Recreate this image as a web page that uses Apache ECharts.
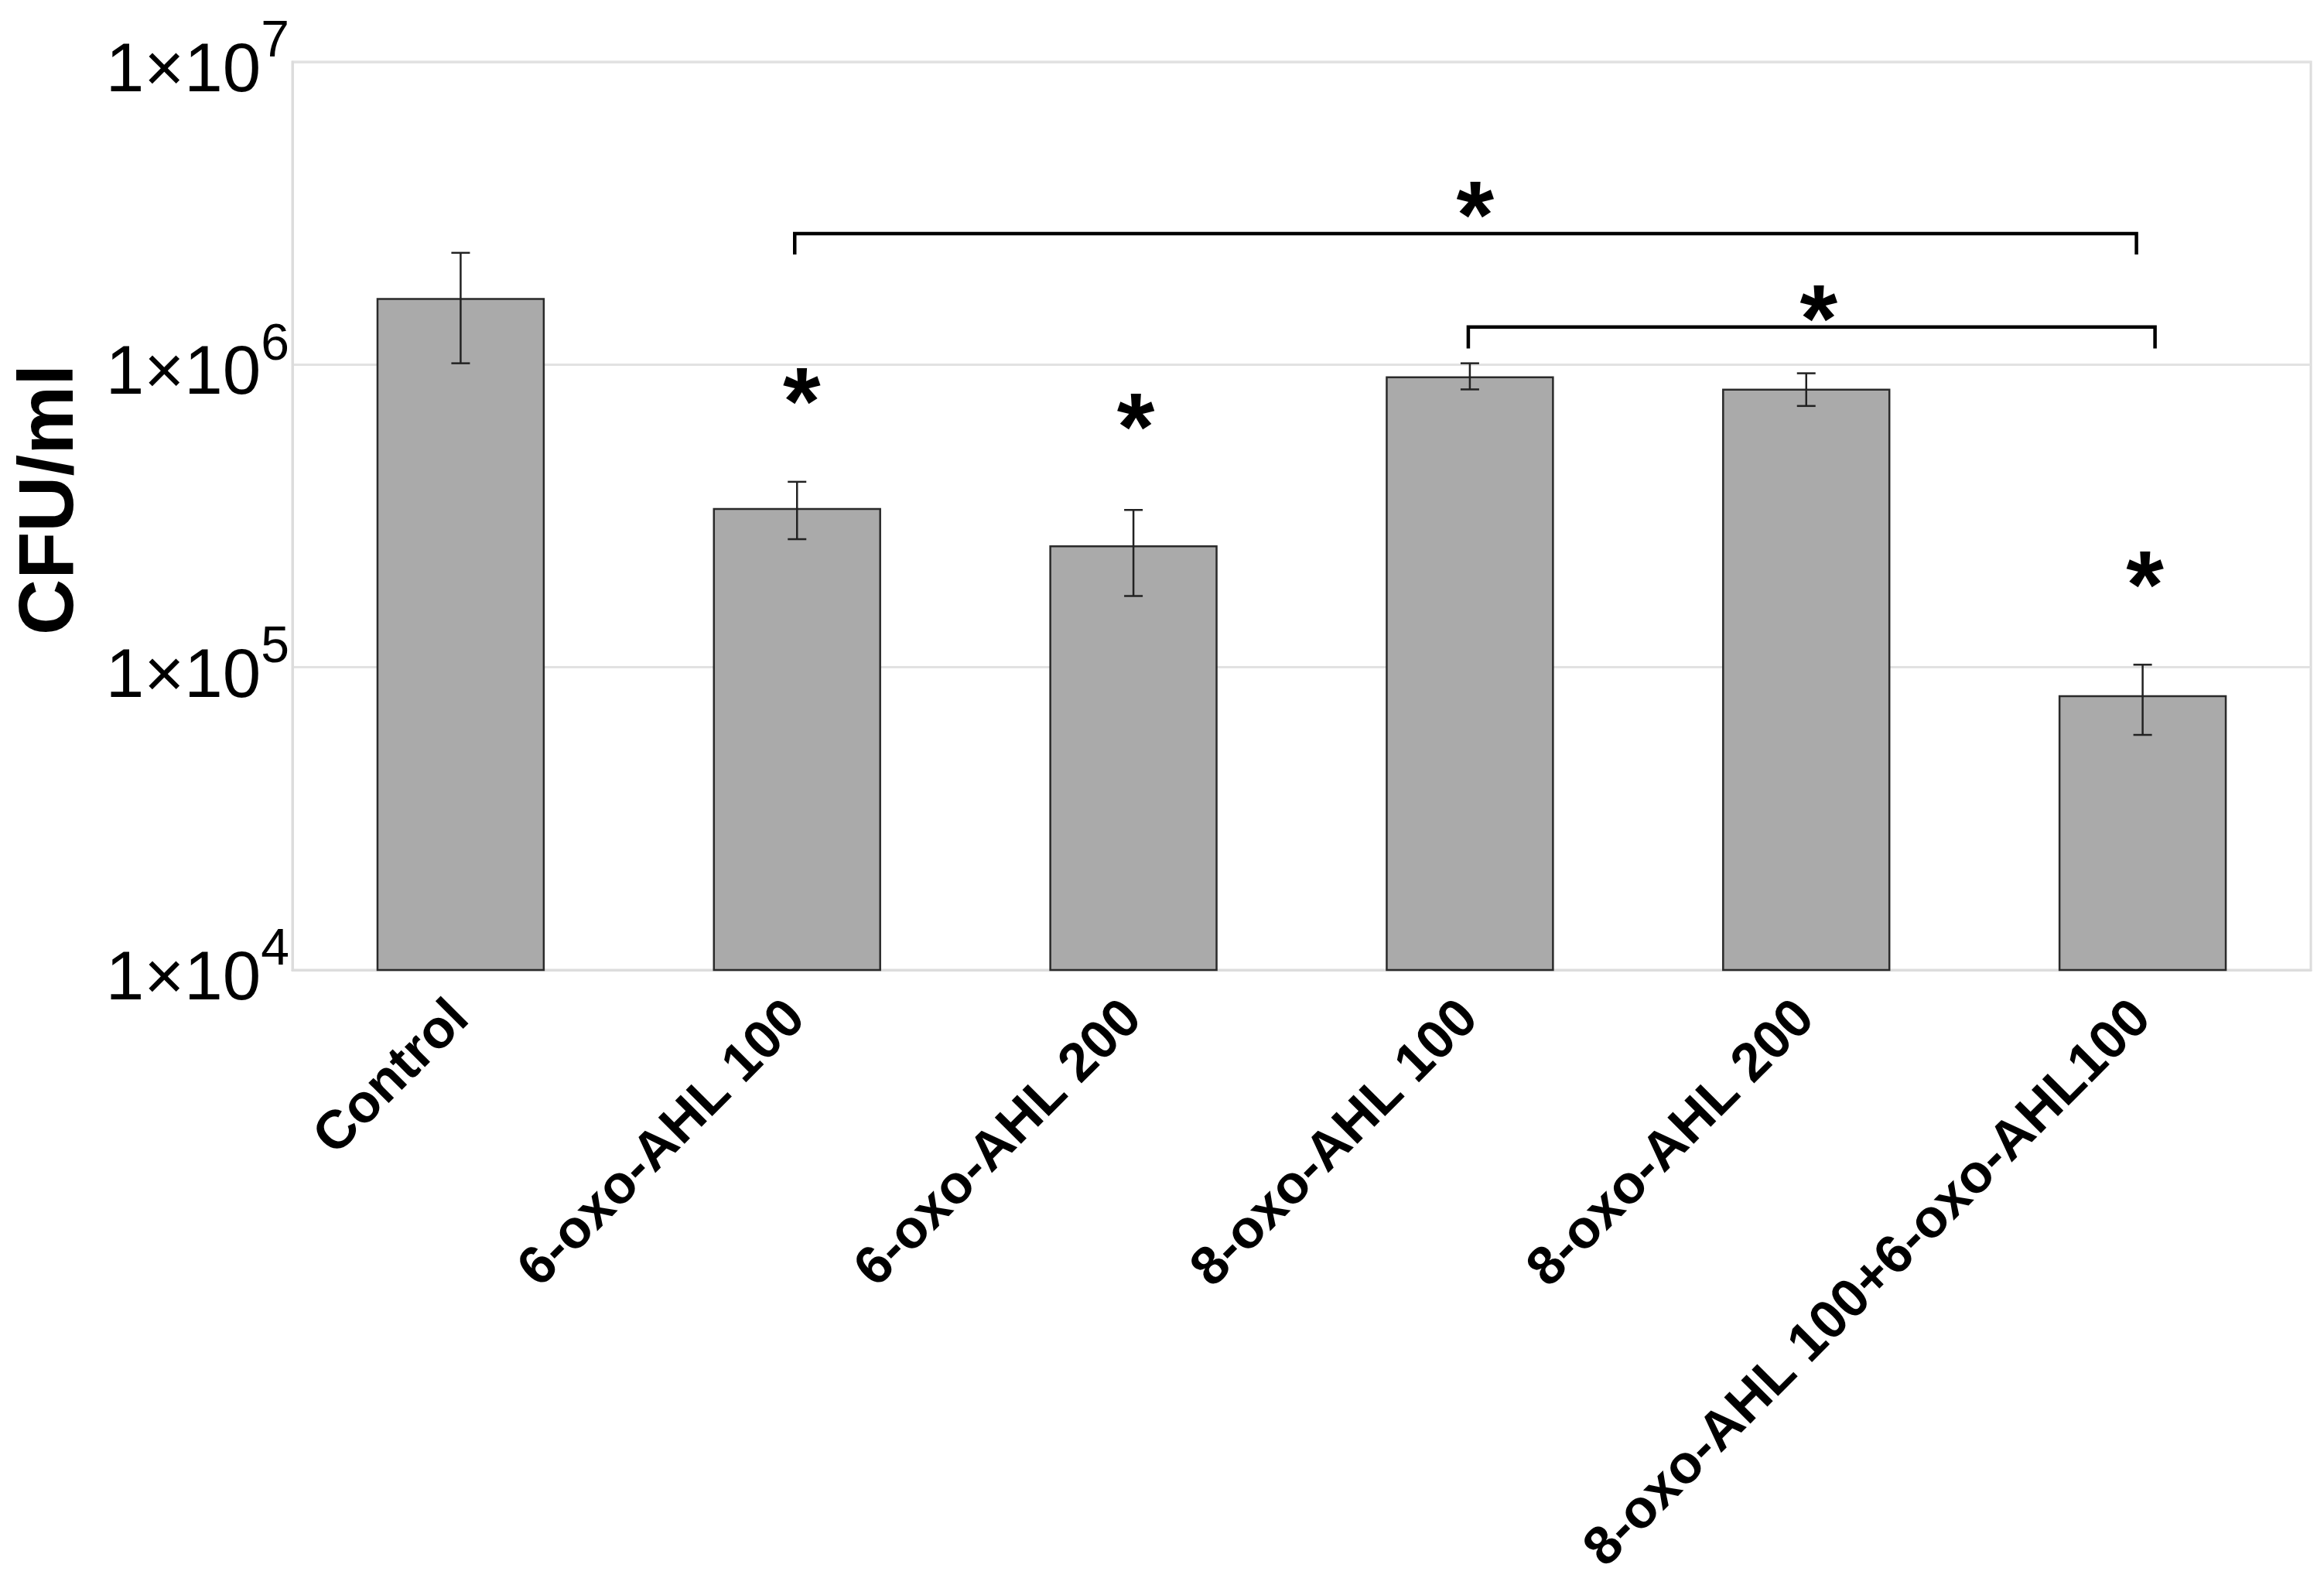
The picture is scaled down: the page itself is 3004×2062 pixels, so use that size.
<!DOCTYPE html>
<html>
<head>
<meta charset="utf-8">
<script src="https://cdn.jsdelivr.net/npm/echarts@6/dist/echarts.min.js"></script>
<style>
html,body{margin:0;padding:0;background:#fff;}
#chart{width:3004px;height:2062px;}
</style>
</head>
<body>
<div id="chart"></div>
<script>
// ---- data ----
var categories = ['Control', '6-oxo-AHL 100', '6-oxo-AHL 200', '8-oxo-AHL 100', '8-oxo-AHL 200', '8-oxo-AHL 100+6-oxo-AHL100'];
var cfuMean = [1.66e6, 3.36e5, 2.53e5, 9.14e5, 8.33e5, 8.09e4];
var cfuLow  = [1.01e6, 2.65e5, 1.72e5, 8.28e5, 7.30e5, 5.98e4];
var cfuHigh = [2.34e6, 4.10e5, 3.31e5, 1.01e6, 9.36e5, 1.02e5];
var yTicks = [1e4, 1e5, 1e6, 1e7];
// significance brackets: [fromCategory, toCategory, barLevel, tickEndLevel]
var brackets = [
  [1, 5, 2.71e6, 2.31e6],
  [3, 5, 1.33e6, 1.13e6]
];
// significance stars: [category, level]
var stars = [
  [1, 8.55e5],
  [2, 7.04e5],
  [5, 2.13e5],
  [3, 3.53e6],
  [4, 1.61e6]
];

// ---- layout / style ----
var bracketNudge = [[-3, -8], [-2, 16]];
var starNudgeX = [6, 3, 3, 7, 16];
var FONT = 'Liberation Sans, Arial, Helvetica, sans-serif';

var chart = echarts.init(document.getElementById('chart'));

var errData = categories.map(function (c, i) { return [i, cfuLow[i], cfuHigh[i]]; });

var option = {
  backgroundColor: '#ffffff',
  animation: false,
  grid: {
    left: 378, right: 17, top: 80, bottom: 808,
    show: true, borderColor: '#dcdcdc', borderWidth: 3,
    backgroundColor: 'transparent',
    outerBoundsMode: 'none'
  },
  xAxis: {
    type: 'category',
    data: categories,
    axisLine: { show: true, lineStyle: { color: '#dcdcdc', width: 3 } },
    axisTick: { show: false },
    axisLabel: {
      interval: 0,
      rotate: 45,
      margin: 52,
      padding: [68, 0, 0, 0],
      color: '#000',
      fontFamily: FONT,
      fontWeight: 'bold',
      fontSize: 70
    }
  },
  yAxis: {
    type: 'log',
    logBase: 10,
    min: yTicks[0],
    max: yTicks[yTicks.length - 1],
    name: 'CFU/ml',
    nameLocation: 'middle',
    nameGap: 262,
    nameTextStyle: {
      color: '#000', fontFamily: FONT, fontWeight: 'bold', fontSize: 100,
      padding: [0, 0, 0, 42]
    },
    axisLine: { show: true, lineStyle: { color: '#dcdcdc', width: 3 } },
    axisTick: { show: false },
    splitLine: { show: true, lineStyle: { color: '#e2e2e2', width: 3 } },
    minorTick: { show: false },
    axisLabel: {
      margin: 4,
      formatter: function (v) {
        var e = Math.round(Math.log10(v));
        return '{a|1×10}{b|' + e + '}';
      },
      rich: {
        a: { fontFamily: FONT, fontSize: 89, color: '#000', lineHeight: 116, verticalAlign: 'bottom' },
        b: { fontFamily: FONT, fontSize: 66, color: '#000', verticalAlign: 'top' }
      }
    }
  },
  series: [
    {
      type: 'bar',
      data: cfuMean,
      barWidth: '50%',
      itemStyle: { color: '#aaaaaa', borderColor: '#2a2a2a', borderWidth: 2.5 },
      z: 2
    },
    {
      type: 'custom',
      data: errData,
      z: 5,
      renderItem: function (params, api) {
        var i = api.value(0);
        var lo = api.coord([i, api.value(1)]);
        var hi = api.coord([i, api.value(2)]);
        var cap = 12;
        var st = { stroke: '#222', lineWidth: 2.5 };
        return {
          type: 'group',
          children: [
            { type: 'line', shape: { x1: hi[0], y1: hi[1], x2: lo[0], y2: lo[1] }, style: st },
            { type: 'line', shape: { x1: hi[0] - cap, y1: hi[1], x2: hi[0] + cap, y2: hi[1] }, style: st },
            { type: 'line', shape: { x1: lo[0] - cap, y1: lo[1], x2: lo[0] + cap, y2: lo[1] }, style: st }
          ]
        };
      }
    },
    {
      type: 'custom',
      data: brackets,
      z: 6,
      renderItem: function (params, api) {
        var n = bracketNudge[params.dataIndex];
        var a = api.coord([api.value(0), api.value(2)]);
        var b = api.coord([api.value(1), api.value(2)]);
        var t = api.coord([api.value(0), api.value(3)]);
        var x1 = a[0] + n[0], x2 = b[0] + n[1];
        return {
          type: 'polyline',
          shape: { points: [[x1, t[1]], [x1, a[1]], [x2, a[1]], [x2, t[1]]] },
          style: { stroke: '#000', lineWidth: 4.5, fill: null, lineJoin: 'miter' }
        };
      }
    },
    {
      type: 'custom',
      data: stars,
      z: 7,
      renderItem: function (params, api) {
        var p = api.coord([api.value(0), api.value(1)]);
        return {
          type: 'text',
          x: p[0] + starNudgeX[params.dataIndex],
          y: p[1] + 30,
          style: {
            text: '*', fontFamily: FONT, fontWeight: 'bold', fontSize: 125,
            fill: '#000', align: 'center', verticalAlign: 'middle'
          }
        };
      }
    }
  ]
};
chart.setOption(option);
</script>
</body>
</html>
